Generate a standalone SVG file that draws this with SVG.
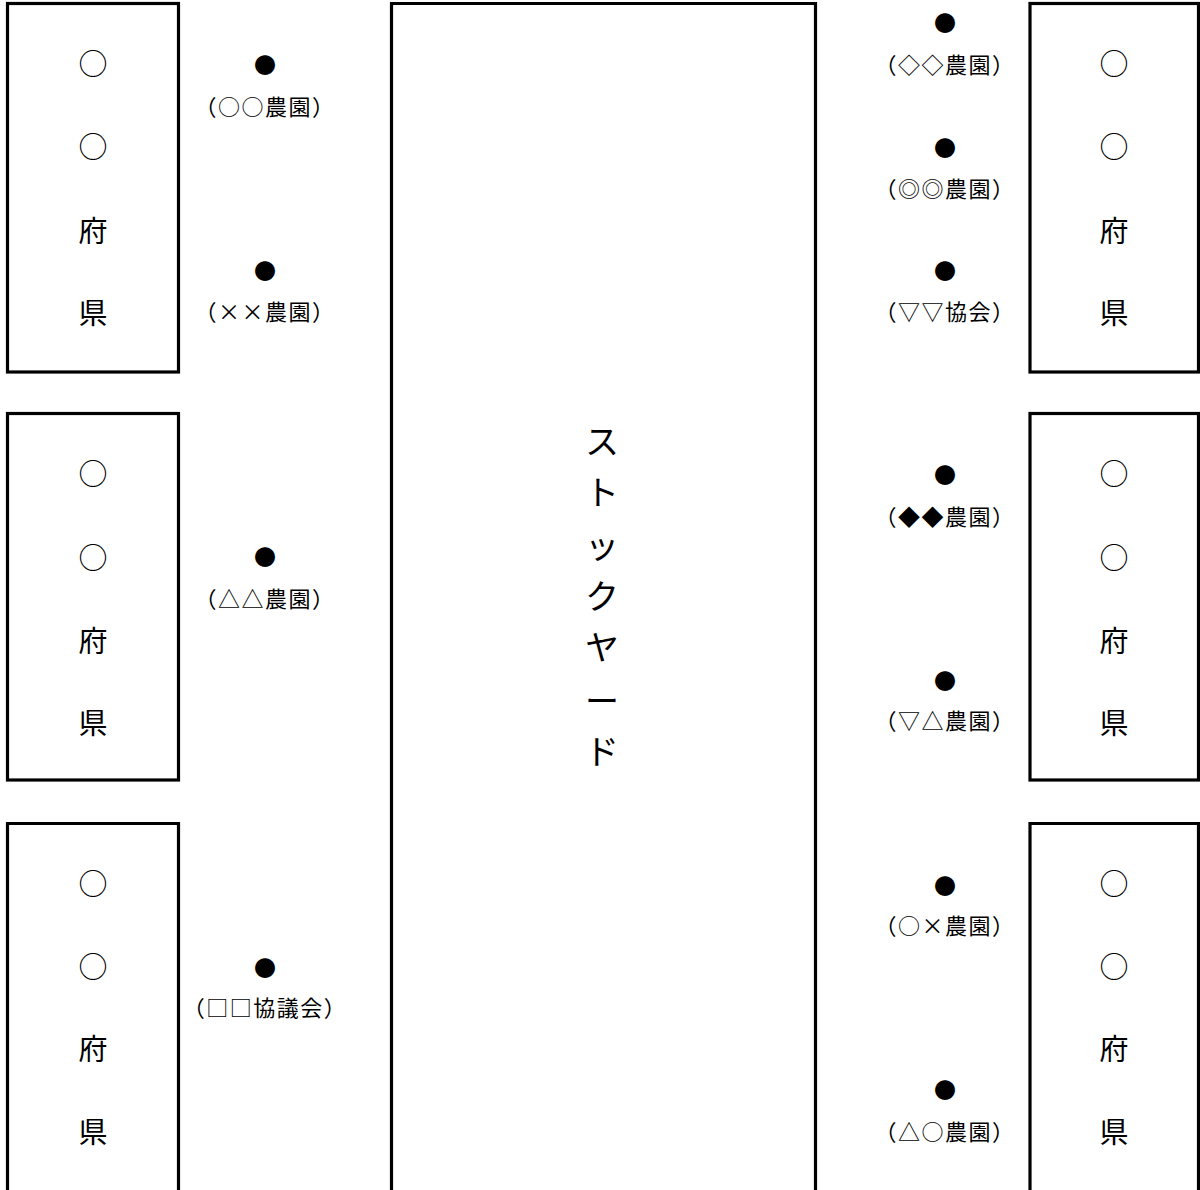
<svg xmlns="http://www.w3.org/2000/svg" width="1200" height="1190" viewBox="0 0 1200 1190">
<style>
.box{fill:none;stroke:#000;stroke-width:3.2}
text{font-family:"Noto Sans CJK JP","Noto Sans CJK SC",sans-serif;fill:#000;text-anchor:middle;dominant-baseline:central}
.pref{font-size:29px}
.dot{font-size:22px}
.lbl{font-size:22px;letter-spacing:1.5px}
.sy{font-size:34px}
</style>
<rect width="1200" height="1190" fill="#fff"/>
<g id="pref-L1">
<rect class="box" x="7.5" y="3.5" width="171" height="368.5"/>
<text class="pref" x="93" y="62">○</text><text class="pref" x="93" y="145">○</text><text class="pref" x="93" y="229">府</text><text class="pref" x="93" y="311">県</text>
</g>
<g id="pref-L2">
<rect class="box" x="7.5" y="413.5" width="171" height="366.5"/>
<text class="pref" x="93" y="472">○</text><text class="pref" x="93" y="556">○</text><text class="pref" x="93" y="639">府</text><text class="pref" x="93" y="721">県</text>
</g>
<g id="pref-L3">
<path class="box" d="M7.5,1195 V823.5 H178.5 V1195"/>
<text class="pref" x="93" y="882">○</text><text class="pref" x="93" y="965">○</text><text class="pref" x="93" y="1047">府</text><text class="pref" x="93" y="1130">県</text>
</g>
<g id="stockyard">
<path class="box" d="M391.5,1195 V3.5 H815.5 V1195"/>
<text class="sy" x="602" y="439">ス</text><text class="sy" x="602" y="490">ト</text><text class="sy" x="602" y="543">ッ</text><text class="sy" x="602" y="594">ク</text><text class="sy" x="602" y="645">ヤ</text><text class="sy" x="602" y="699">ー</text><text class="sy" x="602" y="749">ド</text>
</g>
<g id="pref-R1">
<rect class="box" x="1030" y="3.5" width="168.5" height="368.5"/>
<text class="pref" x="1114" y="62">○</text><text class="pref" x="1114" y="145">○</text><text class="pref" x="1114" y="229">府</text><text class="pref" x="1114" y="311">県</text>
</g>
<g id="pref-R2">
<rect class="box" x="1030" y="413.5" width="168.5" height="366.5"/>
<text class="pref" x="1114" y="472">○</text><text class="pref" x="1114" y="556">○</text><text class="pref" x="1114" y="639">府</text><text class="pref" x="1114" y="721">県</text>
</g>
<g id="pref-R3">
<path class="box" d="M1030,1195 V823.5 H1198.5 V1195"/>
<text class="pref" x="1114" y="882">○</text><text class="pref" x="1114" y="965">○</text><text class="pref" x="1114" y="1047">府</text><text class="pref" x="1114" y="1130">県</text>
</g>
<g id="farm-L1"><text class="dot" x="265" y="63">●</text><text class="lbl" x="265" y="105">（○○農園）</text></g>
<g id="farm-L2"><text class="dot" x="265" y="269">●</text><text class="lbl" x="265" y="310">（××農園）</text></g>
<g id="farm-L3"><text class="dot" x="265" y="555">●</text><text class="lbl" x="265" y="597">（△△農園）</text></g>
<g id="farm-L4"><text class="dot" x="265" y="966">●</text><text class="lbl" x="265" y="1006">（□□協議会）</text></g>
<g id="farm-R1"><text class="dot" x="945" y="21">●</text><text class="lbl" x="945" y="63">（◇◇農園）</text></g>
<g id="farm-R2"><text class="dot" x="945" y="146">●</text><text class="lbl" x="945" y="187">（◎◎農園）</text></g>
<g id="farm-R3"><text class="dot" x="945" y="269">●</text><text class="lbl" x="945" y="310">（▽▽協会）</text></g>
<g id="farm-R4"><text class="dot" x="945" y="473">●</text><text class="lbl" x="945" y="515">（◆◆農園）</text></g>
<g id="farm-R5"><text class="dot" x="945" y="679">●</text><text class="lbl" x="945" y="719">（▽△農園）</text></g>
<g id="farm-R6"><text class="dot" x="945" y="884">●</text><text class="lbl" x="945" y="924">（○×農園）</text></g>
<g id="farm-R7"><text class="dot" x="945" y="1088">●</text><text class="lbl" x="945" y="1130">（△○農園）</text></g>
<g id="connectors"/>
</svg>
